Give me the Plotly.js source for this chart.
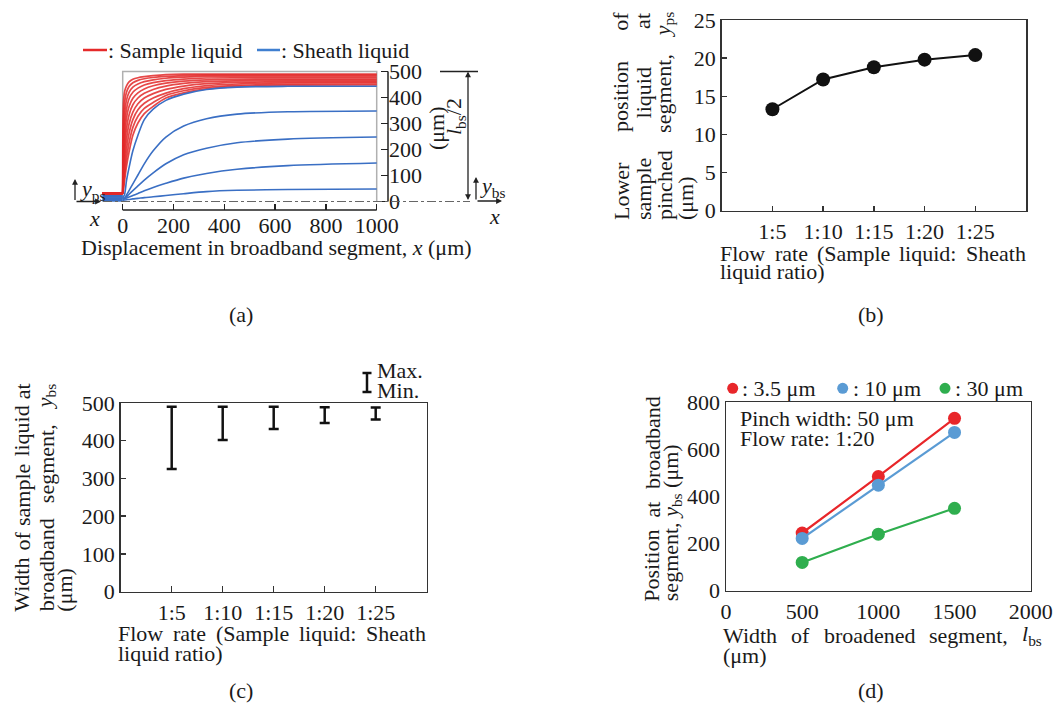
<!DOCTYPE html>
<html>
<head>
<meta charset="utf-8">
<script src="https://cdn.plot.ly/plotly-3.0.1.min.js"></script>
<style>html,body{margin:0;padding:0;background:#fff;}#chart{width:1057px;height:710px;}</style>
</head>
<body>
<div id="chart"></div>
<script>
// ---------------- DATA ----------------
// (a) streamlines: x grid in the broadband segment (µm) and y of each streamline (µm)
const streamX = [0, 3, 8, 15, 25, 40, 60, 85, 120, 170, 240, 330, 450, 650, 1000];
const inletX = [-80, 0];
const sampleLines = [
  [31, 380, 425, 445, 460, 470, 476, 480, 484, 488, 490, 490, 490, 490, 490],
  [31, 300, 385, 420, 442, 457, 466, 472, 477, 481, 484, 486, 486, 486, 486],
  [31, 240, 340, 390, 420, 440, 452, 461, 468, 474, 478, 481, 481, 481, 481],
  [31, 190, 295, 355, 395, 420, 436, 448, 457, 465, 471, 475, 476, 476, 476],
  [31, 150, 250, 320, 365, 397, 418, 433, 445, 455, 463, 468, 470, 471, 471],
  [31, 120, 210, 280, 333, 372, 398, 416, 431, 444, 454, 461, 464, 466, 466],
  [31, 95, 170, 240, 298, 344, 376, 398, 415, 431, 444, 453, 458, 461, 461],
  [31, 75, 135, 200, 262, 315, 353, 378, 398, 417, 434, 446, 452, 456, 457],
  [31, 60, 108, 165, 225, 285, 328, 358, 381, 408, 426, 439, 447, 451, 452],
  [31, 45, 85, 135, 190, 255, 302, 338, 366, 398, 418, 433, 442, 447, 448]
];
const sheathLines = [
  [23, 18, 30, 80, 130, 195, 255, 315, 355, 389, 413, 431, 440, 443, 443],
  [18, 14, 14, 25, 42, 68, 102, 145, 195, 248, 290, 318, 336, 345, 348],
  [13, 11, 12, 18, 28, 42, 60, 82, 110, 145, 180, 205, 226, 240, 248],
  [8, 9, 10, 13, 17, 23, 31, 41, 54, 70, 90, 108, 124, 138, 148],
  [3, 5, 6, 7, 8, 10, 12, 15, 18, 23, 30, 38, 43, 46, 48]
];
const wallX = [0, 0, 1000, 1000];
const wallY = [31, 500, 500, 0];
const aTicksX = [0, 200, 400, 600, 800, 1000];
const aTicksY = [0, 100, 200, 300, 400, 500];

// (b) lower position of sample liquid at pinched segment
const flowRates = ['1:5', '1:10', '1:15', '1:20', '1:25'];
const ypsValues = [13.3, 17.2, 18.8, 19.8, 20.4];

// (c) width of sample liquid at broadband segment (max / min)
const ybsMax = [490, 490, 490, 489, 488];
const ybsMin = [325, 402, 431, 447, 456];

// (d) position at broadband segment vs width of broadened segment
const broadWidths = [500, 1000, 1500];
const pos3_5 = [245, 485, 732];
const pos10 = [222, 448, 672];
const pos30 = [120, 240, 350];
const seriesNames = [': 3.5 μm', ': 10 μm', ': 30 μm'];

// ---------------- HELPERS ----------------
const W = 1057, H = 710;
const X = px => px / W;
const Y = py => 1 - py / H;
const FAM = '"Liberation Serif", "Times New Roman", serif';
const FS = 22;
const TXT = '#1a1a1a';
const font = (s) => ({family: FAM, size: s || FS, color: TXT});

const ctx = document.createElement('canvas').getContext('2d');
function textWidth(html, size) {
  let w = 0;
  html.split(/(<sub>.*?<\/sub>)/).forEach(p => {
    if (!p) return;
    const sub = p.indexOf('<sub>') === 0;
    const plain = p.replace(/<[^>]+>/g, '');
    const s = sub ? size * 0.7 : size;
    ctx.font = s + 'px ' + FAM;
    w += ctx.measureText(plain).width;
  });
  return w;
}
const annotations = [];
function ann(text, px, py, o) {
  const a = Object.assign({text: text, xref: 'paper', yref: 'paper', x: X(px), y: Y(py),
    showarrow: false, xanchor: 'center', yanchor: 'middle', font: font(),
    borderpad: 0, borderwidth: 0}, o || {});
  annotations.push(a);
  return a;
}
function justifyH(words, x0, x1, yc) {
  const ws = words.map(w => textWidth(w, FS));
  const tot = ws.reduce((a, b) => a + b, 0);
  const gap = (x1 - x0 - tot) / (words.length - 1);
  let x = x0;
  words.forEach((w, i) => { ann(w, x, yc, {xanchor: 'left'}); x += ws[i] + gap; });
}
function justifyV(words, xc, yB, yT) {
  const ws = words.map(w => textWidth(w, FS));
  const tot = ws.reduce((a, b) => a + b, 0);
  const gap = (yB - yT - tot) / (words.length - 1);
  let y = yB;
  words.forEach((w, i) => { ann(w, xc, y, {yanchor: 'bottom', textangle: -90}); y -= ws[i] + gap; });
}
function arrow(xh, yh, ax, ay, extra) {
  annotations.push(Object.assign({text: '', xref: 'paper', yref: 'paper', x: X(xh), y: Y(yh),
    ax: ax, ay: ay, showarrow: true, arrowhead: 2, arrowsize: 0.9, arrowwidth: 1.3,
    arrowcolor: '#222', standoff: 0, startstandoff: 0, font: font(1)}, extra || {}));
}

// ---------------- TRACES ----------------
const traces = [];
const RED = 'rgba(226,40,40,0.85)';
const BLUE = '#3a6fc4';
traces.push({x: wallX, y: wallY, xaxis: 'x', yaxis: 'y', mode: 'lines',
  line: {color: '#b0b0b0', width: 1.5}, hoverinfo: 'skip'});
sheathLines.forEach(ys => {
  traces.push({x: inletX, y: [ys[0], ys[0]], xaxis: 'x', yaxis: 'y', mode: 'lines',
    line: {color: BLUE, width: 2}, hoverinfo: 'skip'});
});
sampleLines.forEach(ys => {
  traces.push({x: inletX, y: [ys[0], ys[0]], xaxis: 'x', yaxis: 'y', mode: 'lines',
    line: {color: RED, width: 2}, hoverinfo: 'skip'});
  traces.push({x: streamX, y: ys, xaxis: 'x', yaxis: 'y', mode: 'lines',
    line: {color: RED, width: 1.7, shape: 'spline', smoothing: 0.8}, hoverinfo: 'skip'});
});
sheathLines.forEach(ys => {
  traces.push({x: streamX, y: ys, xaxis: 'x', yaxis: 'y', mode: 'lines',
    line: {color: BLUE, width: 1.6, shape: 'spline', smoothing: 0.8}, hoverinfo: 'skip'});
});

// (b)
traces.push({x: flowRates, y: ypsValues, xaxis: 'x2', yaxis: 'y2', mode: 'lines+markers',
  line: {color: '#111', width: 2}, marker: {color: '#111', size: 14}, hoverinfo: 'skip'});

// (c)
traces.push({x: flowRates, y: ybsMax, xaxis: 'x3', yaxis: 'y3', mode: 'markers',
  marker: {color: 'rgba(0,0,0,0)', size: 1},
  error_y: {type: 'data', symmetric: false, array: ybsMax.map(() => 0),
    arrayminus: ybsMax.map((v, i) => v - ybsMin[i]), width: 5, thickness: 2.5, color: '#111'},
  hoverinfo: 'skip'});

// (d)
const dColors = ['#e8262a', '#5a9bd4', '#2fae4e'];
[pos3_5, pos10, pos30].forEach((ys, i) => {
  traces.push({x: broadWidths, y: ys, xaxis: 'x4', yaxis: 'y4', mode: 'lines+markers',
    name: seriesNames[i], line: {color: dColors[i], width: 2.2},
    marker: {color: dColors[i], size: 13}, hoverinfo: 'skip'});
});

// ---------------- SHAPES ----------------
const shapes = [
  // (a) bottom axis line, right axis line, centre line
  {type: 'line', xref: 'x', yref: 'paper', x0: aTicksX[0], x1: aTicksX[aTicksX.length - 1],
    y0: Y(210), y1: Y(210), line: {color: '#222', width: 1.5}},
  {type: 'line', xref: 'paper', yref: 'y', x0: X(388), x1: X(388),
    y0: aTicksY[0], y1: aTicksY[aTicksY.length - 1], line: {color: '#222', width: 1.5}},
  {type: 'line', xref: 'paper', yref: 'y', x0: X(103), x1: X(470), y0: 0, y1: 0,
    line: {color: '#666', width: 1, dash: 'dashdot'}},
  {type: 'line', xref: 'paper', yref: 'y', x0: X(440), x1: X(478), y0: 500, y1: 500,
    line: {color: '#222', width: 1.5}},
  // (a) legend lines
  {type: 'line', xref: 'paper', yref: 'paper', x0: X(83), x1: X(107), y0: Y(50), y1: Y(50),
    line: {color: '#e52a2a', width: 2.5}},
  {type: 'line', xref: 'paper', yref: 'paper', x0: X(257), x1: X(280), y0: Y(50), y1: Y(50),
    line: {color: '#3f7fd0', width: 2.5}},
  // (c) Max/Min glyph
  {type: 'line', xref: 'paper', yref: 'paper', x0: X(367), x1: X(367), y0: Y(373), y1: Y(392),
    line: {color: '#111', width: 2.5}},
  {type: 'line', xref: 'paper', yref: 'paper', x0: X(362.5), x1: X(371.5), y0: Y(373), y1: Y(373),
    line: {color: '#111', width: 2.5}},
  {type: 'line', xref: 'paper', yref: 'paper', x0: X(362.5), x1: X(371.5), y0: Y(392), y1: Y(392),
    line: {color: '#111', width: 2.5}}
];
// (d) legend dots
[732.7, 842.7, 945].forEach((cx, i) => {
  shapes.push({type: 'circle', xref: 'paper', yref: 'paper', x0: X(cx - 5.5), x1: X(cx + 5.5),
    y0: Y(388.3 + 5.5), y1: Y(388.3 - 5.5), fillcolor: dColors[i], line: {width: 0}});
});

// ---------------- TEXT ----------------
// (a)
ann(': Sample liquid', 108, 50, {xanchor: 'left'});
ann(': Sheath liquid', 281, 50, {xanchor: 'left'});
ann('Displacement in broadband segment, <i>x</i> (μm)', 276, 248);
ann('(μm)', 437, 128, {textangle: -90});
ann('<i>l</i><sub>bs</sub>/2', 455, 117, {textangle: -90});
ann('<i>y</i><sub>ps</sub>', 80, 190, {xanchor: 'left'});
ann('<i>x</i>', 94, 218);
ann('<i>y</i><sub>bs</sub>', 480, 187, {xanchor: 'left'});
ann('<i>x</i>', 494, 216);
arrow(75, 179, 0, 22.5);
arrow(101, 201.5, -26, 0);
arrow(476, 177, 0, 24);
arrow(502, 201, -26, 0);
annotations.push({text: '', xref: 'paper', yref: 'y', x: X(468), y: 500, ax: 0, ay: 130,
  showarrow: true, arrowhead: 2, arrowsize: 0.9, arrowwidth: 1.3, arrowside: 'end+start',
  arrowcolor: '#222', standoff: 0, startstandoff: 0, font: font(1)});
ann('(a)', 241, 314);

// (b)
justifyH(['Flow', 'rate', '(Sample', 'liquid:', 'Sheath'], 720, 1026, 253.3);
ann('liquid ratio)', 720, 271.7, {xanchor: 'left'});
justifyV(['Lower', 'position', 'of'], 621, 220, 13);
justifyV(['sample', 'liquid', 'at'], 643, 220, 13);
justifyV(['pinched', 'segment,', '<i>y</i><sub>ps</sub>'], 664, 220, 13);
ann('(μm)', 685, 220, {yanchor: 'bottom', textangle: -90});
ann('(b)', 871, 314);

// (c)
justifyH(['Flow', 'rate', '(Sample', 'liquid:', 'Sheath'], 118.3, 426, 633.3);
ann('liquid ratio)', 118.3, 653.3, {xanchor: 'left'});
justifyV(['Width', 'of', 'sample', 'liquid', 'at'], 22, 611.7, 383.3);
justifyV(['broadband', 'segment,', '<i>y</i><sub>bs</sub>'], 46, 611.7, 385);
ann('(μm)', 65, 611.7, {yanchor: 'bottom', textangle: -90});
ann('Max.', 377, 370, {xanchor: 'left'});
ann('Min.', 377, 390.5, {xanchor: 'left'});
ann('(c)', 241, 690);

// (d)
[741.7, 853, 955].forEach((x0, i) => ann(seriesNames[i], x0, 388.3, {xanchor: 'left'}));
ann('Pinch width: 50 μm', 740, 418.3, {xanchor: 'left'});
ann('Flow rate: 1:20', 740, 438.3, {xanchor: 'left'});
justifyH(['Width', 'of', 'broadened', 'segment,', '<i>l</i><sub>bs</sub>'], 723.3, 1041.7, 635);
ann('(μm)', 723.3, 655, {xanchor: 'left'});
justifyV(['Position', 'at', 'broadband'], 652, 601.7, 396.7);
ann('segment, <i>y</i><sub>bs</sub> (μm)', 672, 601.7, {yanchor: 'bottom', textangle: -90});
ann('(d)', 871, 690);

// ---------------- AXES ----------------
const common = {showgrid: false, zeroline: false, tickfont: font(), color: TXT};
const boxed = Object.assign({}, common, {showline: true, mirror: true, linecolor: '#333',
  linewidth: 1.5, tickcolor: '#333', tickwidth: 1.5});

const layout = {
  width: W, height: H, margin: {l: 0, r: 0, t: 0, b: 0},
  paper_bgcolor: '#fff', plot_bgcolor: 'rgba(0,0,0,0)', showlegend: false,
  font: font(),
  xaxis: Object.assign({}, common, {domain: [X(100), X(380)],
    range: [(100 - 122.7) / 0.254, (380 - 122.7) / 0.254], anchor: 'free', position: Y(210),
    showline: false, ticks: 'inside', ticklen: 6, tickwidth: 1.5, tickcolor: '#222',
    tickmode: 'array', tickvals: aTicksX}),
  yaxis: Object.assign({}, common, {domain: [Y(204.1), Y(68.9)], range: [-10, 510],
    side: 'right', anchor: 'free', position: X(388), showline: false,
    ticks: 'inside', ticklen: 7, tickwidth: 1.5, tickcolor: '#222',
    tickmode: 'array', tickvals: aTicksY}),
  xaxis2: Object.assign({}, boxed, {domain: [X(721.7), X(1026)], type: 'category',
    range: [-1, flowRates.length], anchor: 'y2', ticks: 'inside', ticklen: 5}),
  yaxis2: Object.assign({}, boxed, {domain: [Y(210.7), Y(20)], range: [0, 25], dtick: 5,
    anchor: 'x2', ticks: 'inside', ticklen: 5}),
  xaxis3: Object.assign({}, boxed, {domain: [X(120.7), X(426.7)], type: 'category',
    range: [-1, flowRates.length], anchor: 'y3', ticks: 'inside', ticklen: 6}),
  yaxis3: Object.assign({}, boxed, {domain: [Y(591.7), Y(403)], range: [0, 500], dtick: 100,
    anchor: 'x3', ticks: 'inside', ticklen: 5}),
  xaxis4: Object.assign({}, boxed, {domain: [X(726), X(1030.7)], range: [0, 2000], dtick: 500,
    anchor: 'y4', ticks: ''}),
  yaxis4: Object.assign({}, boxed, {domain: [Y(590.7), Y(402.3)], range: [0, 800], dtick: 200,
    anchor: 'x4', ticks: ''}),
  shapes: shapes,
  annotations: annotations
};

Plotly.newPlot('chart', traces, layout, {staticPlot: true, displayModeBar: false});
</script>
</body>
</html>
